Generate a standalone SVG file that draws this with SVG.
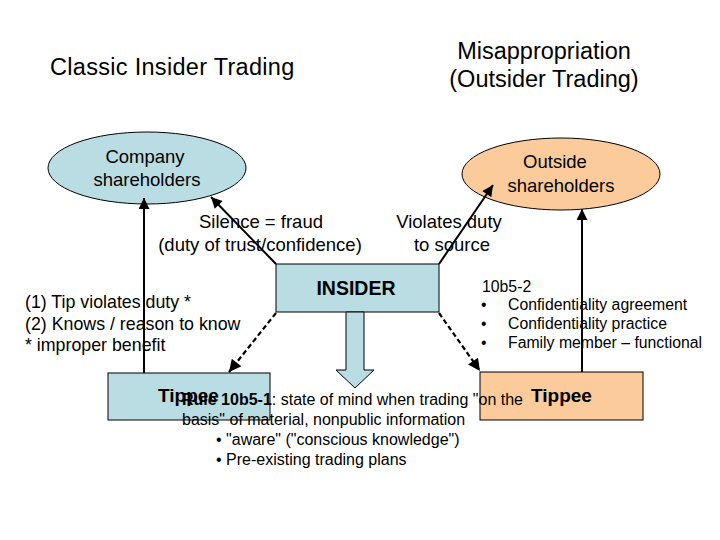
<svg xmlns="http://www.w3.org/2000/svg" width="720" height="540" viewBox="0 0 720 540">
<style>
text{font-family:"Liberation Sans",Arial,sans-serif;fill:#000}
.t{font-size:23.5px}
.m{font-size:18.5px}
.s{font-size:17.8px}
.r{font-size:15.8px}
.q{font-size:16px}
.b{font-weight:bold}
.blue{fill:#B9DDE3;stroke:#000;stroke-width:1}
.orange{fill:#FBCB9B;stroke:#000;stroke-width:1}
.ln{stroke:#000;stroke-width:2;fill:none}
.dash{stroke:#000;stroke-width:2.2;fill:none;stroke-dasharray:5 3}
</style>
<defs>
<marker id="ah" viewBox="0 0 10 10" refX="10" refY="5" markerWidth="6" markerHeight="5.5" markerUnits="strokeWidth" orient="auto">
<path d="M0,0 L10,5 L0,10 z" fill="#000"/>
</marker>
</defs>
<rect width="720" height="540" fill="#fff"/>
<g id="titles">
<text class="t" x="50" y="75" style="letter-spacing:0.3px">Classic Insider Trading</text>
<text class="t" x="544" y="59" text-anchor="middle">Misappropriation</text>
<text class="t" x="544" y="87" text-anchor="middle">(Outsider Trading)</text>
</g>
<g id="company">
<ellipse class="blue" cx="147" cy="168" rx="99" ry="36"/>
<text class="m" x="145" y="163" text-anchor="middle">Company</text>
<text class="m" x="147" y="186" text-anchor="middle">shareholders</text>
</g>
<g id="outside">
<ellipse class="orange" cx="561" cy="174" rx="99" ry="36"/>
<text class="m" x="555" y="168" text-anchor="middle">Outside</text>
<text class="m" x="561" y="192" text-anchor="middle">shareholders</text>
</g>
<g id="insider">
<rect class="blue" x="276" y="264" width="163" height="48"/>
<text class="b" x="356" y="295" text-anchor="middle" style="font-size:19.5px">INSIDER</text>
<path class="blue" d="M346,312 L364,312 L364,370 L374,370 L355,388 L336,370 L346,370 Z"/>
</g>
<g id="tippee-left">
<rect class="blue" x="108" y="373" width="162" height="47"/>
<text class="b" x="158" y="402" style="font-size:19px">Tippee</text>
</g>
<g id="tippee-right">
<rect class="orange" x="480" y="372" width="163" height="48"/>
<text class="b" x="531" y="402" style="font-size:19px">Tippee</text>
</g>
<g id="labels">
<text class="m" x="261" y="228" text-anchor="middle">Silence = fraud</text>
<text class="m" x="260" y="251" text-anchor="middle">(duty of trust/confidence)</text>
<text class="m" x="449" y="228" text-anchor="middle">Violates duty</text>
<text class="m" x="452" y="251" text-anchor="middle">to source</text>
<text class="s" x="25" y="308">(1) Tip violates duty *</text>
<text class="s" x="25" y="330">(2) Knows / reason to know</text>
<text class="s" x="25" y="351">* improper benefit</text>
<text class="r" x="482" y="292">10b5-2</text>
<text class="r" x="481" y="310">•</text>
<text class="r" x="508" y="310">Confidentiality agreement</text>
<text class="r" x="481" y="329">•</text>
<text class="r" x="508" y="329">Confidentiality practice</text>
<text class="r" x="481" y="348">•</text>
<text class="r" x="508" y="348">Family member – functional</text>
<text class="q" x="182" y="405"><tspan class="b">Rule 10b5-1</tspan>: state of mind when trading "on the</text>
<text class="q" x="182" y="425">basis" of material, nonpublic information</text>
<text class="q" x="216" y="445">• "aware" ("conscious knowledge")</text>
<text class="q" x="216" y="465">• Pre-existing trading plans</text>
</g>
<g id="connectors">
<line class="ln" x1="144" y1="373" x2="144" y2="198" marker-end="url(#ah)"/>
<line class="ln" x1="582" y1="372" x2="582" y2="209" marker-end="url(#ah)"/>
<line class="ln" x1="276" y1="264" x2="211" y2="197" marker-end="url(#ah)"/>
<line class="ln" x1="439" y1="264" x2="493" y2="185" marker-end="url(#ah)"/>
<line class="dash" x1="276" y1="313" x2="229" y2="372" marker-end="url(#ah)"/>
<line class="dash" x1="439" y1="313" x2="480" y2="371" marker-end="url(#ah)"/>
</g>
</svg>
